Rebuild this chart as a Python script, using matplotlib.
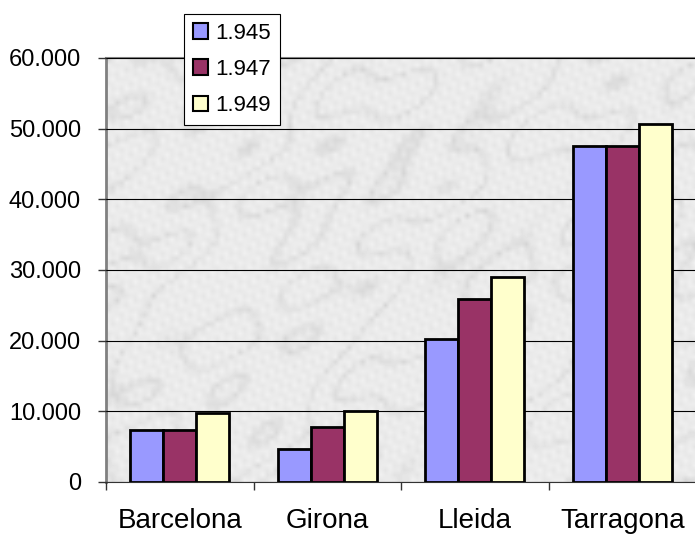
import numpy as np
import matplotlib.pyplot as plt
from matplotlib.patches import Patch

plt.rcParams['font.family'] = ['Liberation Sans', 'DejaVu Sans']

# Provincial figures, three years
provincias = ['Barcelona', 'Girona', 'Lleida', 'Tarragona']
anios = ['1.945', '1.947', '1.949']
v1945 = [7300, 4700, 20200, 47500]
v1947 = [7300, 7800, 25900, 47500]
v1949 = [9700, 10000, 29000, 50700]
colores = ['#9999ff', '#993366', '#ffffcc']

fig = plt.figure(figsize=(6.95, 5.37), dpi=100)
ax = fig.add_axes([106 / 695, 1 - 482 / 537, 590 / 695, 424 / 537])

# soft grey marble backdrop built from layered sines
ny, nx = 90, 130
yy, xx = np.mgrid[0:ny, 0:nx].astype(float)
turb = (np.sin(xx * 0.13 + yy * 0.09) * 1.6 + np.sin(xx * 0.05 - yy * 0.21) * 1.3
        + np.sin(xx * 0.37 + yy * 0.29) * 0.9 + np.sin(xx * 0.08 + yy * 0.41) * 0.8)
veins = np.abs(np.sin(xx * 0.07 + yy * 0.05 + turb))
speck = np.sin(xx * 1.1 + yy * 1.7) * np.sin(xx * 2.3 - yy * 0.8)
tex = 0.92 - 0.07 * (1 - veins) ** 4 - 0.025 * speck
ax.imshow(tex, cmap='gray', vmin=0, vmax=1, extent=[-0.5, 3.5, 0, 60000],
          aspect='auto', zorder=0, interpolation='bilinear')

x = np.arange(len(provincias))
w = 0.224
for i, (vals, c) in enumerate(zip([v1945, v1947, v1949], colores)):
    ax.bar(x + (i - 1) * w, vals, w, color=c, edgecolor='black',
           linewidth=2, zorder=3)

ax.set_xlim(-0.5, 3.5)
ax.set_ylim(0, 60000)
ax.set_yticks(range(0, 60001, 10000))
ax.set_yticklabels(['0' if v == 0 else f'{v // 1000}.000' for v in range(0, 60001, 10000)],
                   fontsize=17)
ax.yaxis.grid(True, color='black', linewidth=0.8, zorder=1)
ax.set_axisbelow(False)

ax.set_xticks(x)
ax.set_xticklabels(provincias, fontsize=20)
ax.set_xticks(np.arange(-0.5, 3.6, 1), minor=True)
ax.tick_params(axis='x', which='major', length=0, pad=19)
ax.tick_params(axis='x', which='minor', length=6, width=1, color='#333333')
ax.tick_params(axis='y', length=6, width=1, color='#333333', pad=12)

ax.spines['top'].set_color('#808080')
ax.spines['top'].set_linewidth(1.5)
ax.spines['left'].set_color('#808080')
ax.spines['left'].set_linewidth(2)
ax.spines['bottom'].set_color('#333333')
ax.spines['right'].set_visible(False)

handles = [Patch(facecolor=c, edgecolor='black', linewidth=1.5) for c in colores]
leg = fig.legend(handles, anios, loc='upper left',
                 bbox_to_anchor=(184 / 695, 1 - 14 / 537), borderaxespad=0,
                 fontsize=16, handlelength=0.7, handleheight=0.7,
                 handletextpad=0.3, labelspacing=0.68, borderpad=0.4,
                 fancybox=False, framealpha=1, edgecolor='black')
leg.get_frame().set_linewidth(0.8)
leg.set_zorder(10)

plt.savefig('out.png', dpi=100)
